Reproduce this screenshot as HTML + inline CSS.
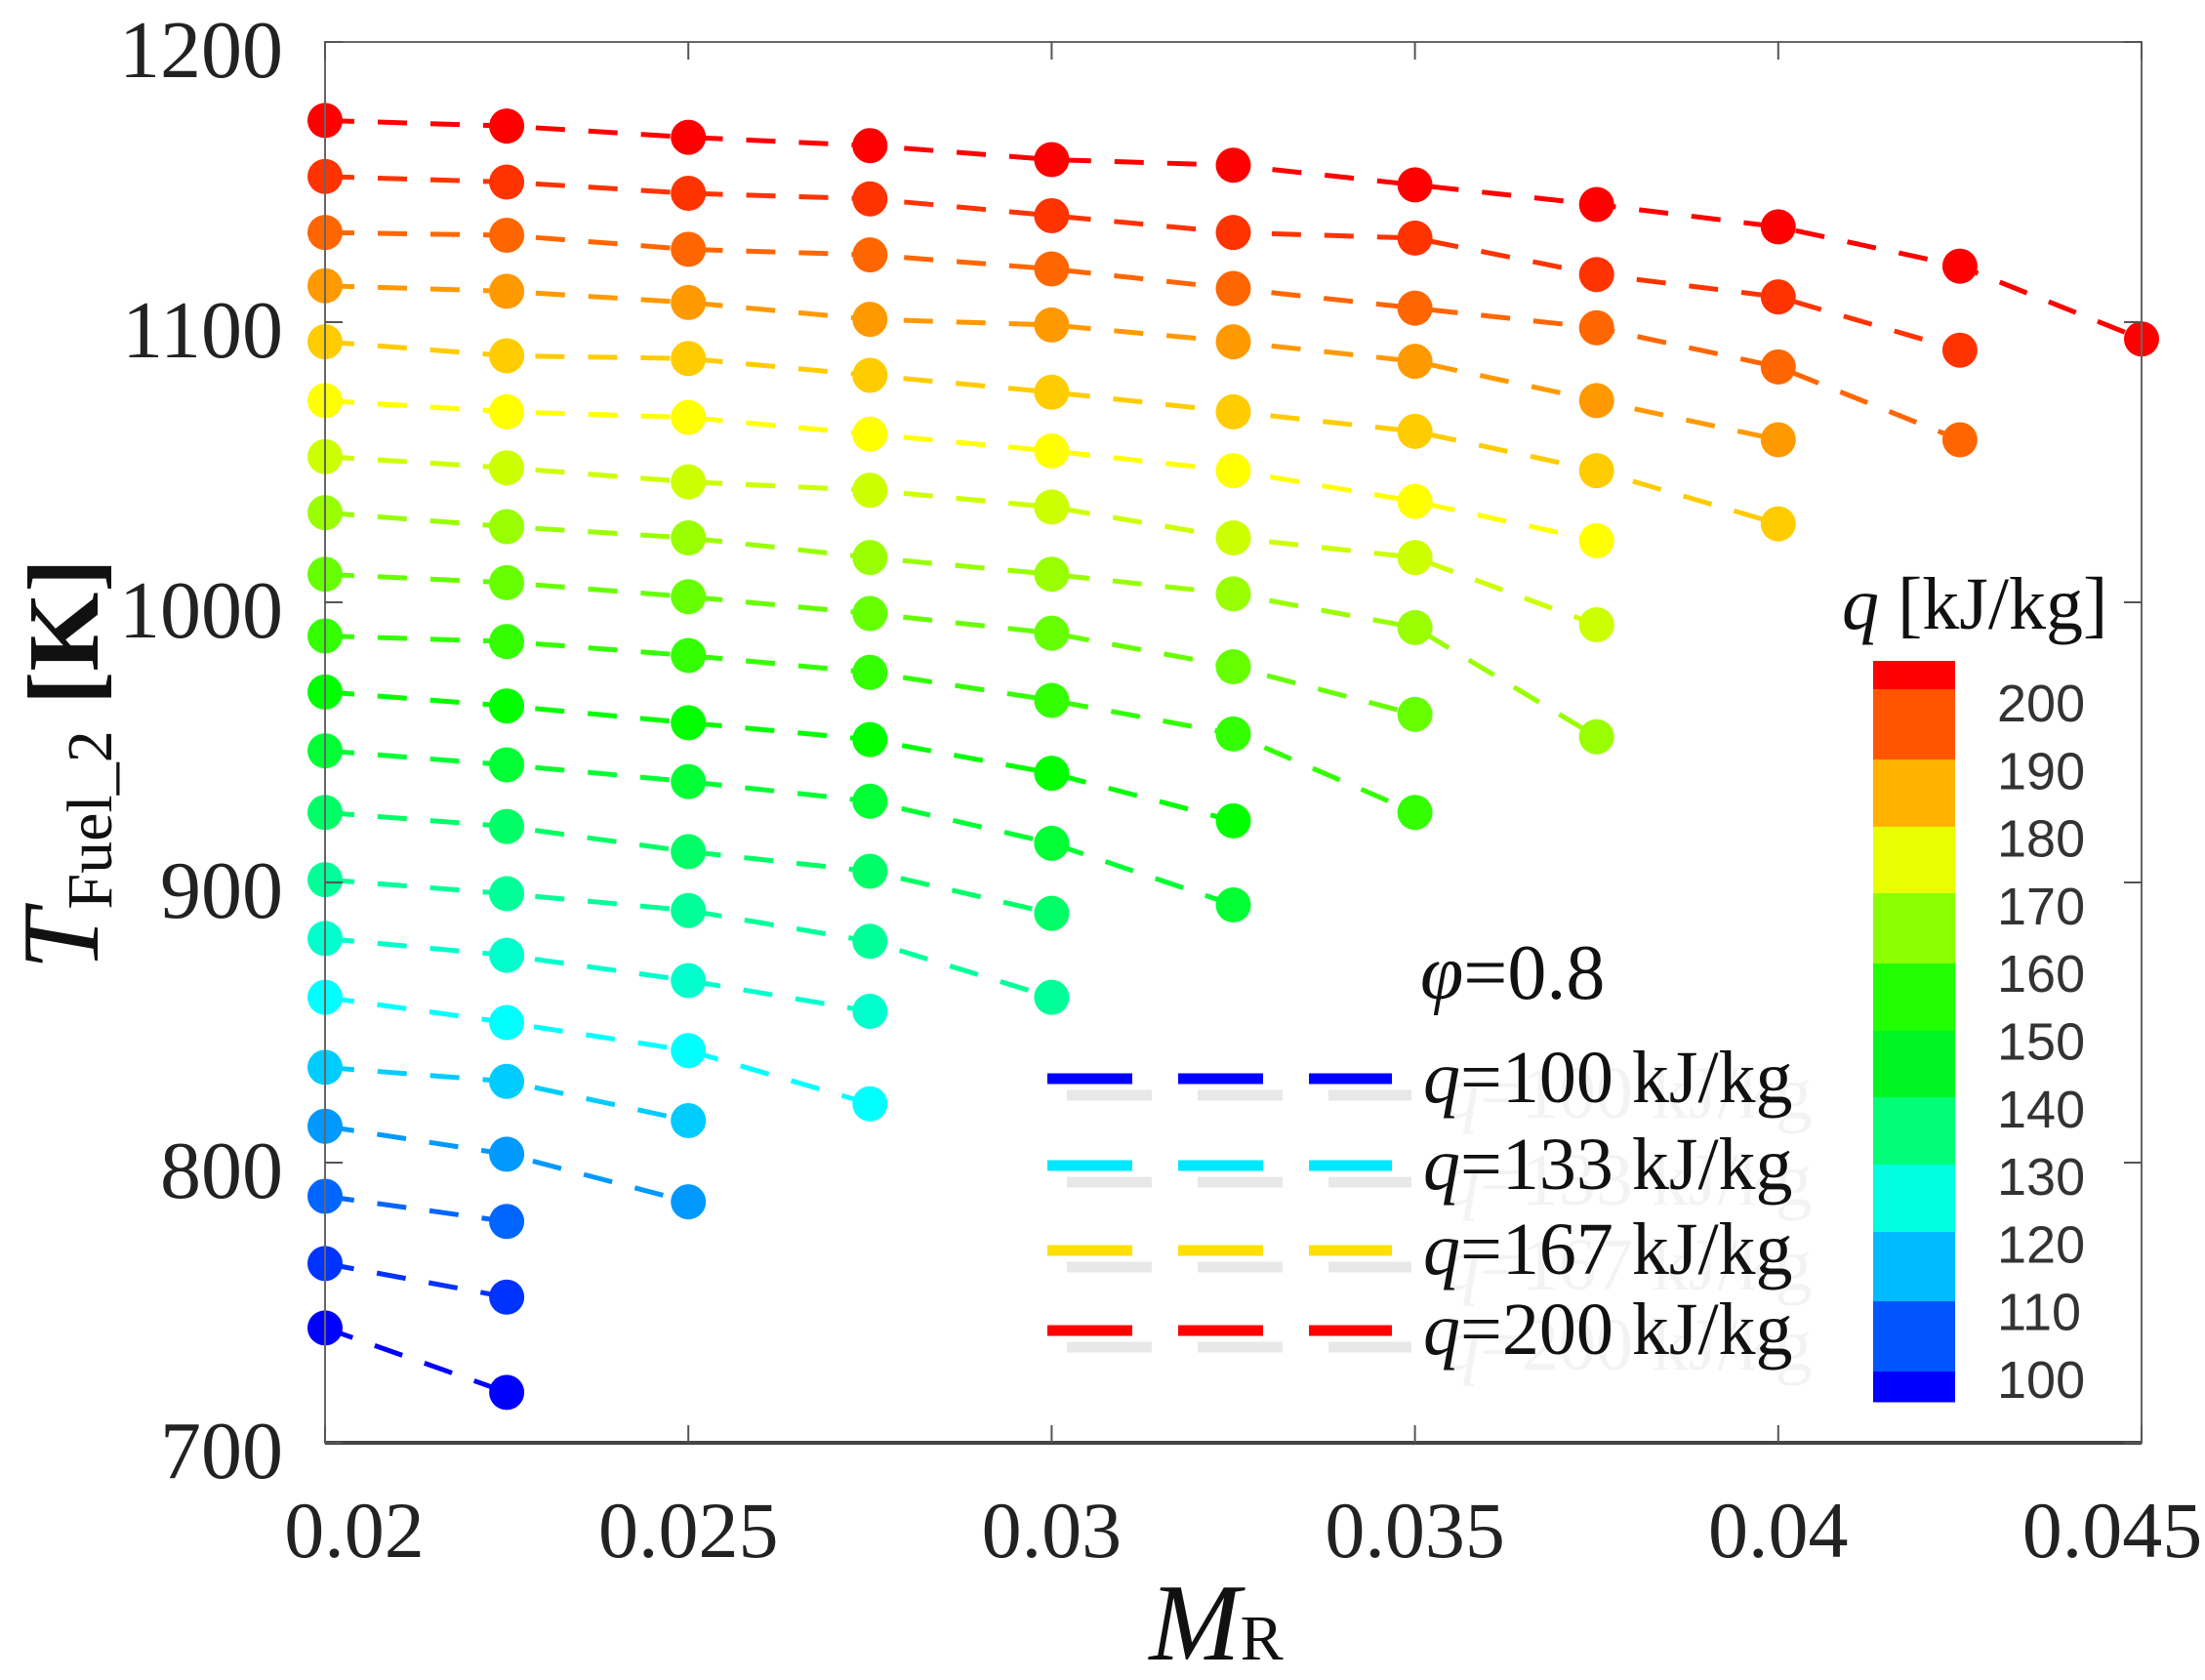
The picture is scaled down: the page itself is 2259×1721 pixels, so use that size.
<!DOCTYPE html>
<html><head><meta charset="utf-8"><style>
html,body{margin:0;padding:0;background:#fff}
svg{display:block}
</style></head><body>
<svg id="chart" width="2259" height="1721" viewBox="0 0 2259 1721" xmlns="http://www.w3.org/2000/svg">
<rect width="2259" height="1721" fill="#fff"/>
<g id="series"></g>
<g id="axes"></g>
<g id="legend"></g>
<g id="cbar"></g>
</svg>
<script>
const xCategories = [0.02,0.0225,0.025,0.0275,0.03,0.0325,0.035,0.0375,0.04,0.0425,0.045];
const qValues = [200,195,190,185,180,175,170,165,160,155,150,145,140,135,130,125,120,115,110,105,100];
const s200=[1172,1170,1166,1163,1158,1156,1149,1142,1134,1120,1094];
const s195=[1152,1150,1146,1144,1138,1132,1130,1117,1109,1090];
const s190=[1132,1131,1126,1124,1119,1112,1105,1098,1084,1058];
const s185=[1113,1111,1107,1101,1099,1093,1086,1072,1058];
const s180=[1093,1088,1087,1081,1075,1068,1061,1047,1028];
const s175=[1072,1068,1066,1060,1054,1047,1036,1022];
const s170=[1052,1048,1043,1040,1034,1023,1016,992];
const s165=[1032,1027,1023,1016,1010,1003,991,952];
const s160=[1010,1007,1002,996,989,977,960];
const s155=[988,986,981,975,965,953,925];
const s150=[968,963,957,951,939,922];
const s145=[947,942,936,929,914,892];
const s140=[925,920,911,904,889];
const s135=[901,896,890,879,859];
const s130=[880,874,865,854];
const s125=[859,850,840,821];
const s120=[834,829,815];
const s115=[813,803,786];
const s110=[788,779];
const s105=[764,752];
const s100=[741,718];
const seriesValues=[s200,s195,s190,s185,s180,s175,s170,s165,s160,s155,s150,s145,s140,s135,s130,s125,s120,s115,s110,s105,s100];
const yTicks=[700,800,900,1000,1100,1200];
const xTicks=[0.02,0.025,0.03,0.035,0.04,0.045];
const xTickLabels=["0.02","0.025","0.03","0.035","0.04","0.045"];
const legendQ=[100,133,167,200];
const cbarLabels=[200,190,180,170,160,150,140,130,120,110,100];

const NS="http://www.w3.org/2000/svg";
const L=333,R=2194,T=43,B=1478;
function xs(v){return L+(v-0.02)/0.025*(R-L);}
function ys(v){return T+(1200-v)/500*(B-T);}
function col(q){return "hsl("+(240*(200-q)/100)+",100%,50%)";}
function mk(tag,attrs,parent){const e=document.createElementNS(NS,tag);for(const k in attrs)e.setAttribute(k,attrs[k]);parent.appendChild(e);return e;}

const sg=document.getElementById('series');
seriesValues.forEach((vals,i)=>{
  const q=qValues[i];
  const g=mk('g',{},sg);
  
  
  const pts=vals.map((v,j)=>xs(xCategories[j]).toFixed(1)+","+ys(v).toFixed(1)).join(" ");
  const pl=mk('polyline',{points:pts,fill:'none',stroke:col(q),'stroke-width':5,'stroke-dasharray':'30 24'},g);
  
  
  vals.forEach((v,j)=>{
    const c=mk('circle',{cx:xs(xCategories[j]),cy:ys(v),r:18,fill:col(q)},g);
    
    
  });
});

const ax=document.getElementById('axes');
mk('rect',{x:L,y:T,width:R-L,height:B-T,fill:'none',stroke:'#666','stroke-width':2},ax);
const xl=mk('line',{x1:L,y1:B,x2:R,y2:B,stroke:'#444','stroke-width':4},ax);


const xOff=[30,0,0,0,0,-30];
xTicks.forEach((v,i)=>{
  const x=xs(v);
  mk('line',{x1:x,y1:B,x2:x,y2:B-18,stroke:'#555','stroke-width':2},ax);
  mk('line',{x1:x,y1:T,x2:x,y2:T+18,stroke:'#555','stroke-width':2},ax);
  const t=mk('text',{x:x+xOff[i],y:1595,'text-anchor':'middle','font-family':'"Liberation Serif",serif','font-size':82,fill:'#222'},ax);
  t.textContent=xTickLabels[i];
  
  
});
yTicks.forEach(v=>{
  const y=ys(v);
  mk('line',{x1:L,y1:y,x2:L+18,y2:y,stroke:'#555','stroke-width':2},ax);
  mk('line',{x1:R,y1:y,x2:R-18,y2:y,stroke:'#555','stroke-width':2},ax);
  const t=mk('text',{x:290,y:y+36,'text-anchor':'end','font-family':'"Liberation Serif",serif','font-size':84,fill:'#222'},ax);
  t.textContent=v;
  
  
});
const xt=mk('text',{x:1246,y:1700,'text-anchor':'middle','font-family':'"Liberation Serif",serif',fill:'#111'},ax);


xt.innerHTML='<tspan font-style="italic" font-size="112">M</tspan><tspan font-size="66">R</tspan>';
const yt=mk('text',{transform:'translate(100,783) rotate(-90)','text-anchor':'middle','font-family':'"Liberation Serif",serif',fill:'#111'},ax);


yt.innerHTML='<tspan font-style="italic" font-size="112">T</tspan><tspan font-size="66" dy="14">Fuel_2</tspan><tspan font-size="104" dy="-14" font-weight="bold"> [K]</tspan>';

const lg=document.getElementById('legend');
const phi=mk('text',{x:1455,y:1023,'font-family':'"Liberation Serif",serif','font-size':80,fill:'#111'},lg);


phi.innerHTML='<tspan font-style="italic">φ</tspan>=0.8';
const legCols=['#0000ff','#00e8ff','#ffe000','#ff0000'];
const legY=[1105,1194,1281,1363];
legendQ.forEach((q,i)=>{
  const y=legY[i];
  mk('line',{x1:1093,y1:y+17,x2:1446,y2:y+17,stroke:'#e8e8e8','stroke-width':11,'stroke-dasharray':'87 47'},lg);
  const gt=mk('text',{x:1478,y:y+40,'font-family':'"Liberation Serif",serif','font-size':76,fill:'#f3f3f3'},lg);
  gt.innerHTML='<tspan font-style="italic">q</tspan>='+q+' kJ/kg';
  const ln=mk('line',{x1:1073,y1:y,x2:1426,y2:y,stroke:legCols[i],'stroke-width':11,'stroke-dasharray':'87 47'},lg);
  
  
  const t=mk('text',{x:1458,y:y+24,'font-family':'"Liberation Serif",serif','font-size':76,fill:'#111'},lg);
  
  
  t.innerHTML='<tspan font-style="italic">q</tspan>='+q+' kJ/kg';
});

const cb=document.getElementById('cbar');
const cbY=[677,706,778,847,915,987,1056,1124,1193,1262,1333,1405,1436];
const cbCols=['#ff0000','#ff5500','#ffb300','#e8ff00','#8cff00','#22ff00','#00f522','#00ff77','#00ffe0','#00bbff','#0055ff','#0000ff'];
cbCols.forEach((c,i)=>{
  const r=mk('rect',{x:1919,y:cbY[i],width:84,height:cbY[i+1]-cbY[i]+0.5,fill:c},cb);
  
  
});
cbarLabels.forEach((v,i)=>{
  const t=mk('text',{x:2046,y:739+i*69.3,'font-family':'"Liberation Sans",sans-serif','font-size':54,fill:'#333'},cb);
  t.textContent=v;
  
  
});
const ct=mk('text',{x:1887,y:644,'font-family':'"Liberation Serif",serif','font-size':76,fill:'#111'},cb);


ct.innerHTML='<tspan font-style="italic">q</tspan> [kJ/kg]';
</script>
</body></html>
